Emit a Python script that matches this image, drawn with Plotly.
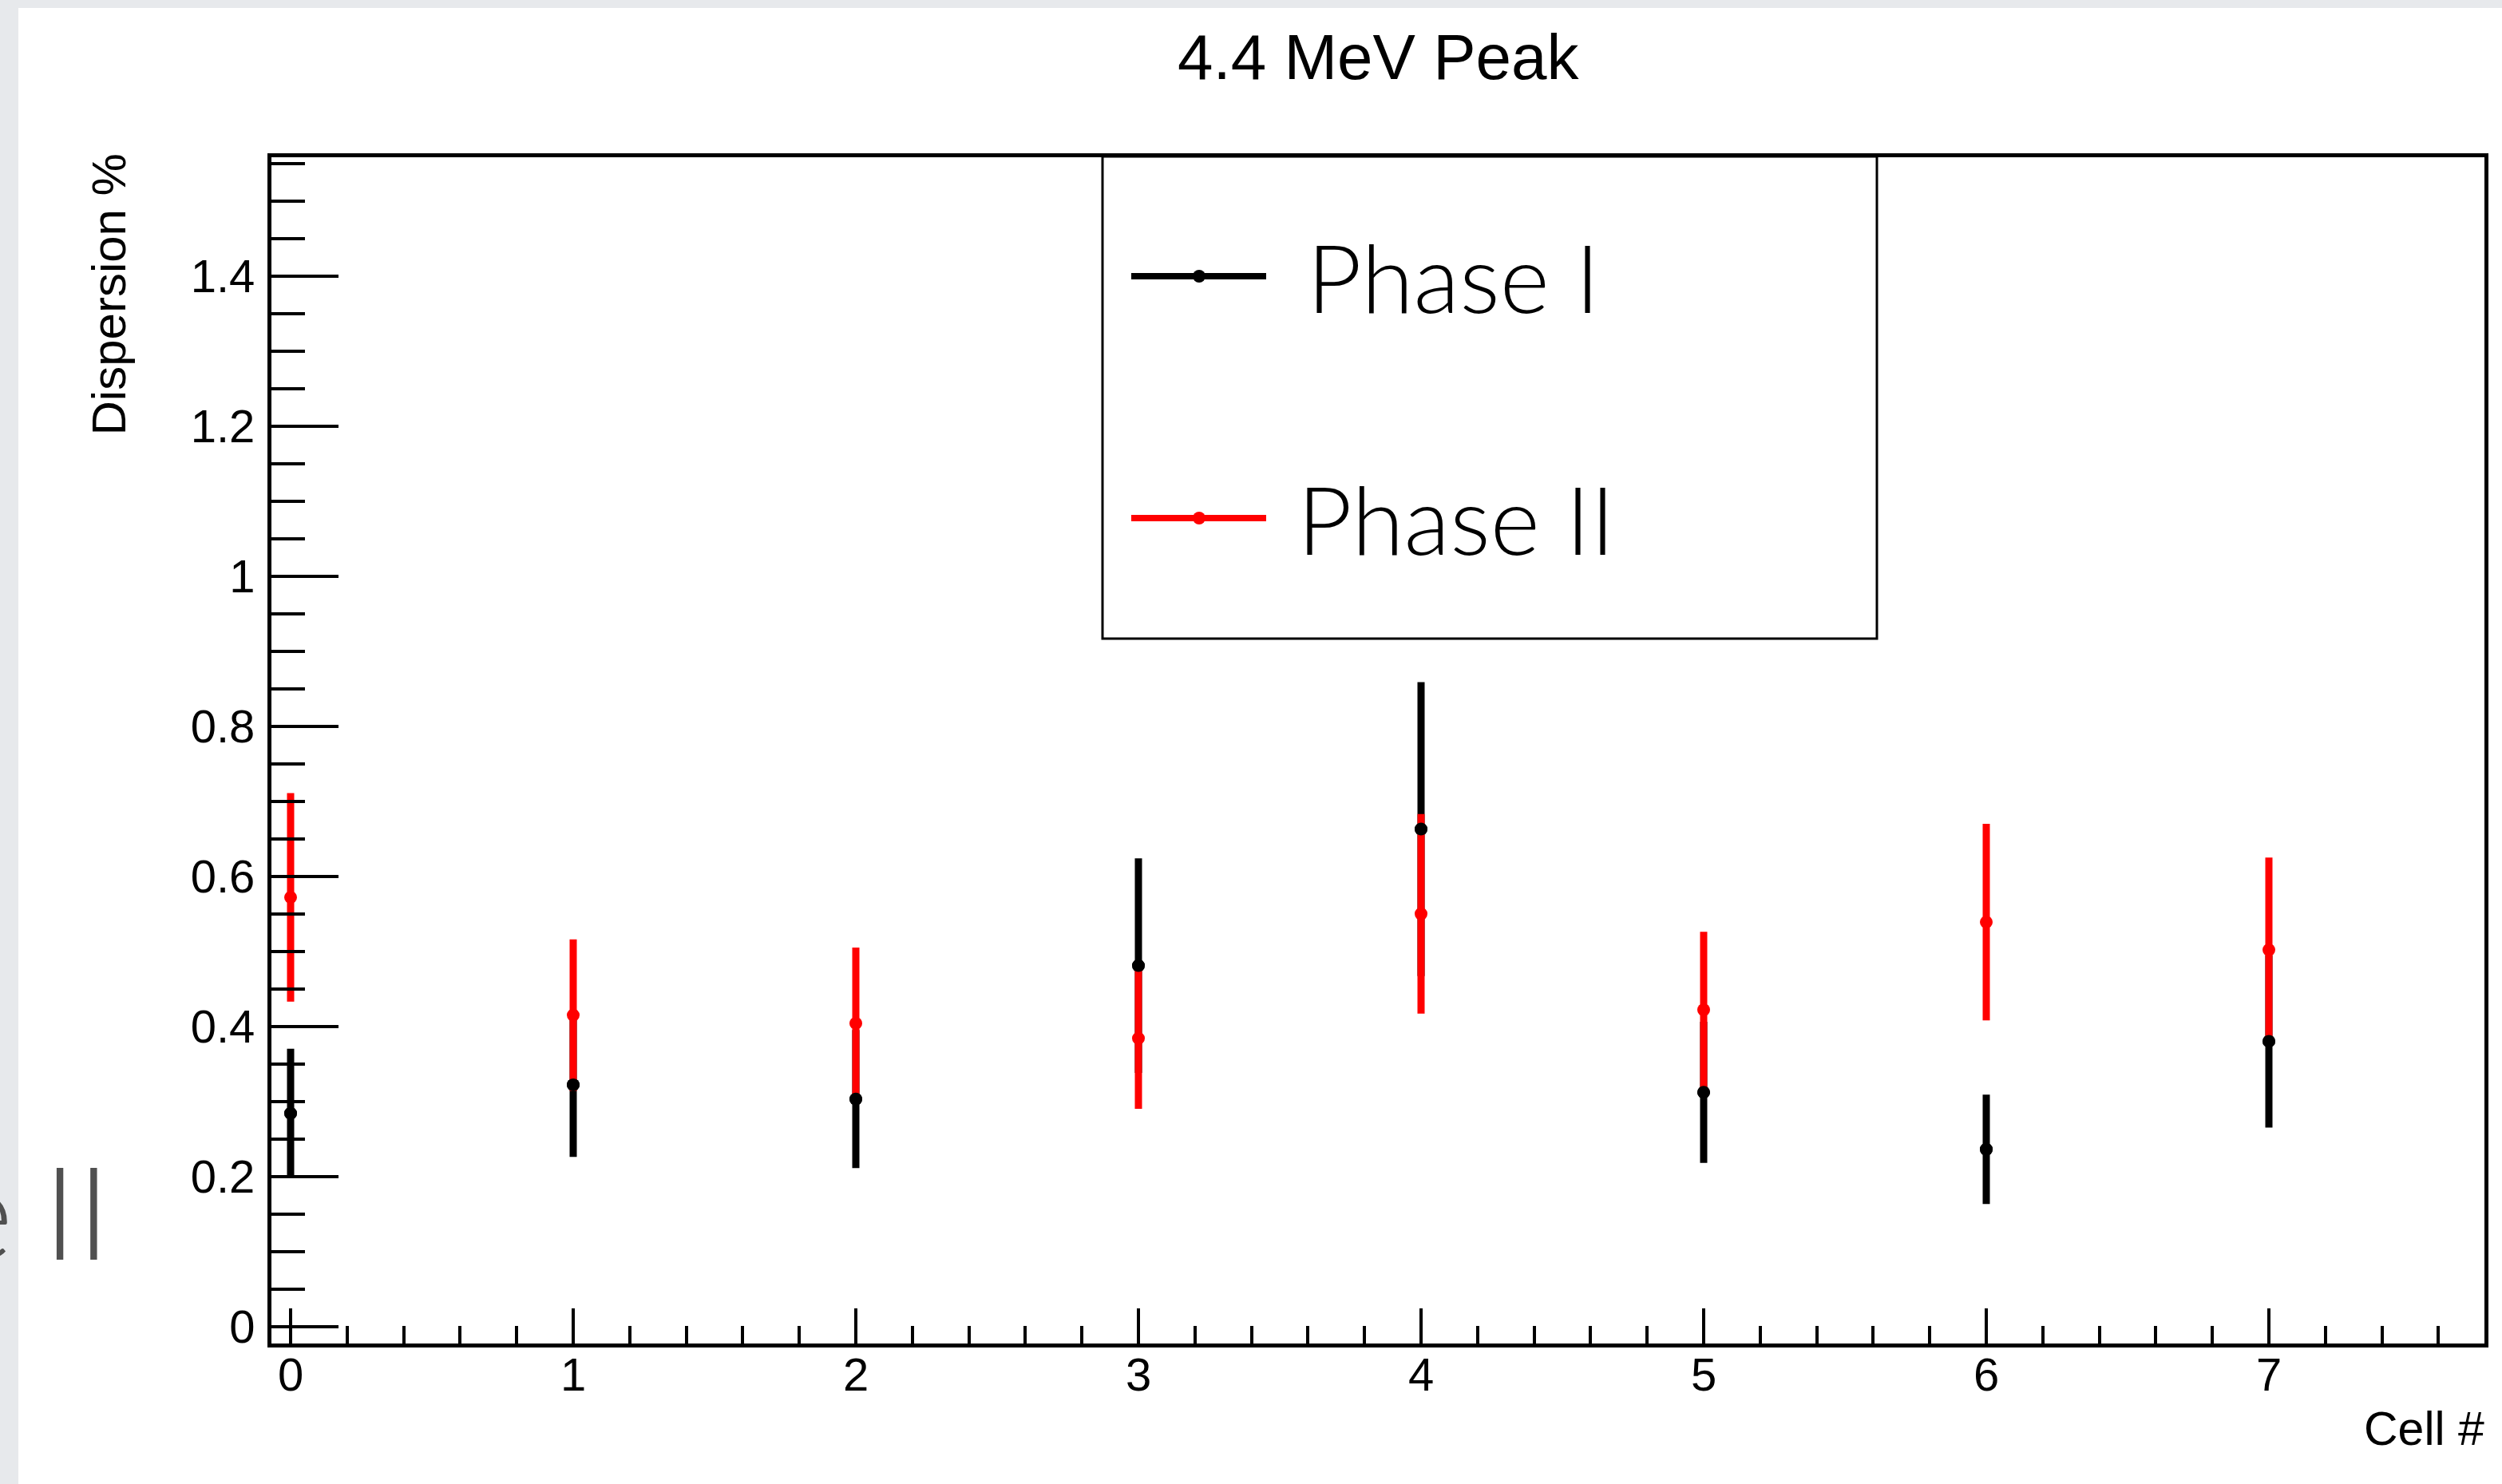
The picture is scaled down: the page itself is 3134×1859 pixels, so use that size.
import plotly.graph_objects as go

# ---------------- data ----------------
cells = [0, 1, 2, 3, 4, 5, 6, 7]
phase1_y = [0.284, 0.322, 0.303, 0.481, 0.663, 0.312, 0.236, 0.380]
phase1_err = [0.086, 0.096, 0.092, 0.143, 0.196, 0.094, 0.073, 0.115]
phase2_y = [0.572, 0.415, 0.404, 0.384, 0.550, 0.422, 0.539, 0.502]
phase2_err = [0.139, 0.101, 0.101, 0.094, 0.133, 0.104, 0.131, 0.123]
series_names = ["Phase I", "Phase II"]
series_colors = ["#000000", "#ff0000"]
y_ticks = [0, 0.2, 0.4, 0.6, 0.8, 1.0, 1.2, 1.4]
y_tick_labels = ["0", "0.2", "0.4", "0.6", "0.8", "1", "1.2", "1.4"]
x_ticks = [0, 1, 2, 3, 4, 5, 6, 7]

W, H = 3134, 1859
L, R, T, B = 340, 22, 197, 176
PW, PH = W - L - R, H - T - B


def px(X):
    return (X - L) / PW


def py(Y):
    return (H - B - Y) / PH


FONT = "Liberation Sans, Arial, Helvetica, sans-serif"
GILL = "Lato, Open Sans, sans-serif"

fig = go.Figure()

# black series (error bars + markers)
fig.add_trace(go.Scatter(
    x=cells, y=phase1_y, mode="markers", name=series_names[0],
    marker=dict(color=series_colors[0], size=16, symbol="circle"),
    error_y=dict(type="data", array=phase1_err, visible=True,
                 color=series_colors[0], thickness=9, width=0),
    showlegend=False, cliponaxis=False,
))
# red series
fig.add_trace(go.Scatter(
    x=cells, y=phase2_y, mode="markers", name=series_names[1],
    marker=dict(color=series_colors[1], size=16, symbol="circle"),
    error_y=dict(type="data", array=phase2_err, visible=True,
                 color=series_colors[1], thickness=9, width=0),
    showlegend=False, cliponaxis=False,
))
# black markers on top
fig.add_trace(go.Scatter(
    x=cells, y=phase1_y, mode="markers", name=series_names[0],
    marker=dict(color=series_colors[0], size=16, symbol="circle"),
    showlegend=False, hoverinfo="skip",
))

shapes = []
# slide background strips (grey)
shapes.append(dict(type="rect", xref="paper", yref="paper",
                   x0=px(-5), x1=px(23), y0=py(H + 5), y1=py(-5),
                   fillcolor="#e7e9ec", line=dict(width=0), layer="below"))
shapes.append(dict(type="rect", xref="paper", yref="paper",
                   x0=px(-5), x1=px(W + 5), y0=py(10), y1=py(-5),
                   fillcolor="#e7e9ec", line=dict(width=0), layer="below"))

# legend box
shapes.append(dict(type="rect", xref="paper", yref="paper",
                   x0=px(1381), x1=px(2351), y0=py(800), y1=py(196),
                   fillcolor="white", line=dict(color="black", width=3)))
legend_rows = [346, 649]
annotations = []
for name, col, yy in zip(series_names, series_colors, legend_rows):
    shapes.append(dict(type="line", xref="paper", yref="paper",
                       x0=px(1417), x1=px(1586), y0=py(yy), y1=py(yy),
                       line=dict(color=col, width=8)))
    shapes.append(dict(type="circle", xref="paper", yref="paper",
                       x0=px(1494), x1=px(1510), y0=py(yy + 8), y1=py(yy - 8),
                       fillcolor=col, line=dict(color=col, width=0)))
annotations.append(dict(text=series_names[0], xref="paper", yref="paper",
                        x=px(1635), y=py(346), xanchor="left", yanchor="middle",
                        showarrow=False, font=dict(family=GILL, size=119, color="black", weight=300)))
annotations.append(dict(text=series_names[1], xref="paper", yref="paper",
                        x=px(1623), y=py(649), xanchor="left", yanchor="middle",
                        showarrow=False, font=dict(family=GILL, size=119, color="black", weight=300)))

# title
annotations.append(dict(text="4.4 MeV Peak", xref="paper", yref="paper",
                        x=px(1727), y=py(72), xanchor="center", yanchor="middle",
                        showarrow=False, font=dict(family=FONT, size=80, color="black")))
# axis titles
annotations.append(dict(text="Cell #", xref="paper", yref="paper",
                        x=px(3114), y=py(1790), xanchor="right", yanchor="middle",
                        showarrow=False, font=dict(family=FONT, size=59, color="black")))
annotations.append(dict(text="Dispersion %", xref="paper", yref="paper",
                        x=px(136), y=py(190), xanchor="center", yanchor="top",
                        textangle=-90,
                        showarrow=False, font=dict(family=FONT, size=60, color="black")))
# slide fragment behind the chart
annotations.append(dict(text="II", xref="paper", yref="paper",
                        x=px(140), y=py(1515), xanchor="right", yanchor="middle",
                        showarrow=False, font=dict(family=GILL, size=162, color="#505050", weight=300)))
annotations.append(dict(text="e", xref="paper", yref="paper",
                        x=px(18), y=py(1515), xanchor="right", yanchor="middle",
                        showarrow=False, font=dict(family=GILL, size=162, color="#505050", weight=300)))

fig.update_layout(
    width=W, height=H,
    margin=dict(l=L, r=R, t=T, b=B, pad=0),
    paper_bgcolor="white", plot_bgcolor="white",
    shapes=shapes, annotations=annotations,
    showlegend=False,
    font=dict(family=FONT, color="black"),
)
fig.update_xaxes(
    range=[(L - 364) / 354, (W - R - 364) / 354],
    tickvals=x_ticks, ticktext=[str(v) for v in x_ticks],
    ticks="inside", ticklen=44, tickwidth=4, tickcolor="black",
    minor=dict(dtick=0.2, tick0=0, ticks="inside", ticklen=22, tickwidth=4, tickcolor="black"),
    showline=True, linewidth=5, linecolor="black", mirror=True,
    showgrid=False, zeroline=False,
    tickfont=dict(family=FONT, size=58, color="black"),
    ticklabelstandoff=-16,
)
fig.update_yaxes(
    range=[(1661.5 - (H - B)) / 939.6, (1661.5 - T) / 939.6],
    tickvals=y_ticks, ticktext=y_tick_labels,
    ticks="inside", ticklen=84, tickwidth=4, tickcolor="black",
    minor=dict(dtick=0.05, tick0=0, ticks="inside", ticklen=42, tickwidth=4, tickcolor="black"),
    showline=True, linewidth=5, linecolor="black", mirror=True,
    showgrid=False, zeroline=False,
    tickfont=dict(family=FONT, size=58, color="black"),
    ticklabelstandoff=4,
)

fig.write_html(
    "out.html",
    config={"displayModeBar": False},
    post_script="document.body.style.margin='0';document.body.style.padding='0';"
                "document.body.style.overflow='hidden';",
)
